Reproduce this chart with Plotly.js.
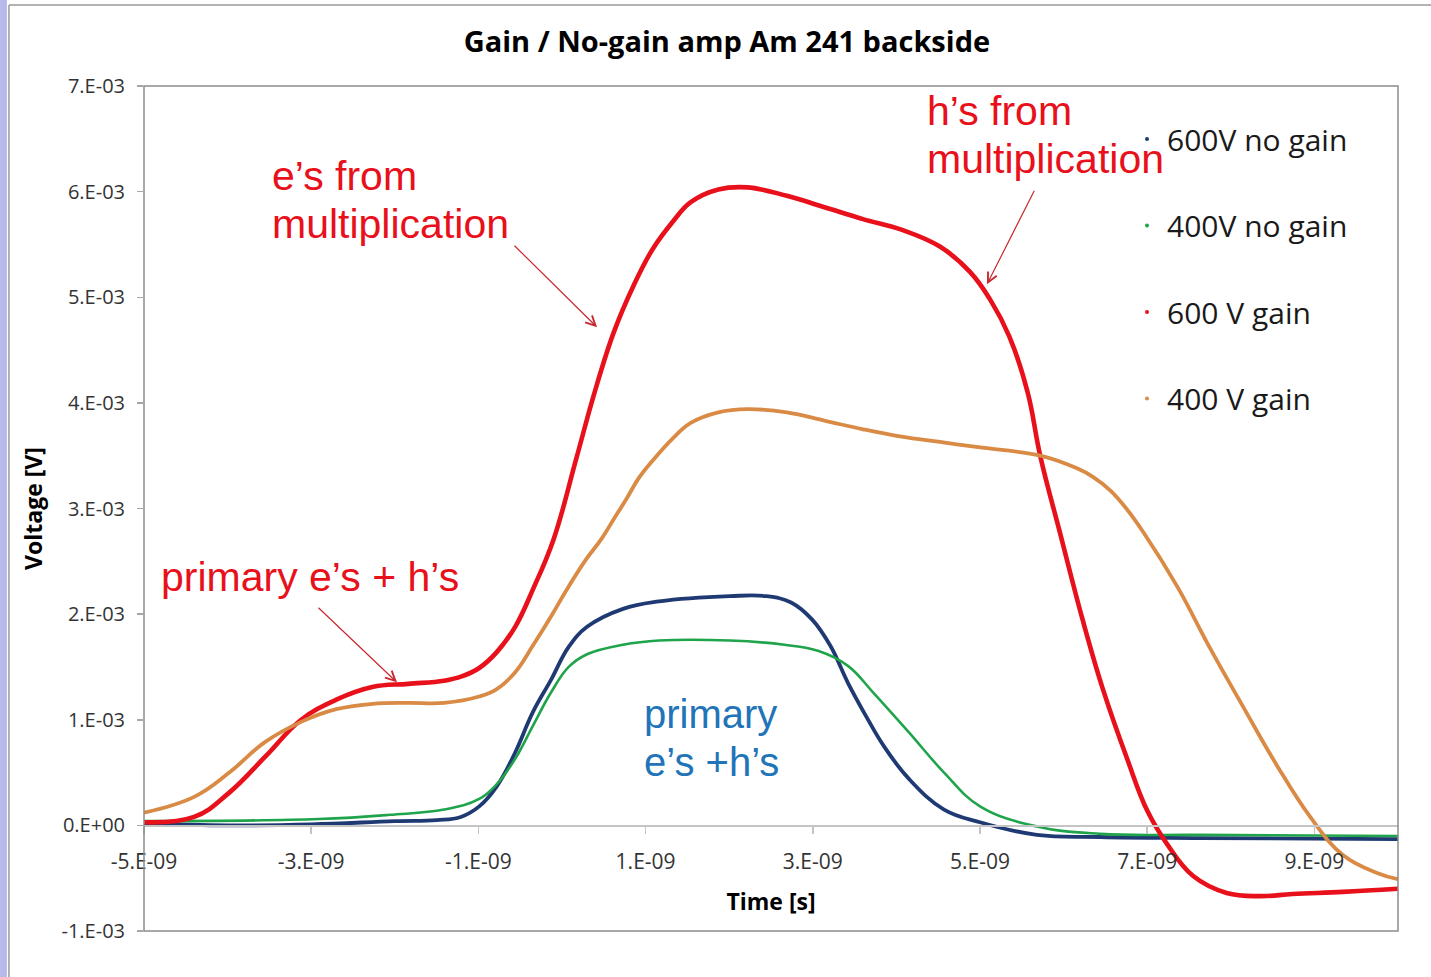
<!DOCTYPE html>
<html>
<head>
<meta charset="utf-8">
<script src="https://cdn.plot.ly/plotly-3.0.1.min.js"></script>
<style>html,body{margin:0;padding:0;background:#fff;}#chart{width:1431px;height:977px;}</style>
</head>
<body>
<div id="chart"></div>
<script>
// ---- data (time in s, voltage in V) ----
const tBlue600NoGain = [-5.00e-9,-4.00e-9,-3.00e-9,-2.00e-9,-1.50e-9,-1.21e-9,-0.99e-9,-0.78e-9,-0.56e-9,-0.35e-9,-0.13e-9,0.08e-9,0.30e-9,0.73e-9,1.16e-9,2.01e-9,2.44e-9,2.74e-9,2.99e-9,3.21e-9,3.42e-9,3.64e-9,3.85e-9,4.15e-9,4.57e-9,5.00e-9,5.68e-9,6.44e-9,7.63e-9,10.00e-9];
const vBlue600NoGain = [0.02e-3,0.00e-3,0.01e-3,0.04e-3,0.05e-3,0.08e-3,0.18e-3,0.37e-3,0.69e-3,1.07e-3,1.38e-3,1.69e-3,1.88e-3,2.05e-3,2.12e-3,2.17e-3,2.17e-3,2.11e-3,1.95e-3,1.70e-3,1.35e-3,1.03e-3,0.75e-3,0.44e-3,0.15e-3,0.03e-3,-0.09e-3,-0.11e-3,-0.12e-3,-0.13e-3];

const tGreen400NoGain = [-5.00e-9,-2.91e-9,-2.06e-9,-1.41e-9,-0.99e-9,-0.78e-9,-0.56e-9,-0.35e-9,-0.13e-9,0.08e-9,0.30e-9,0.73e-9,1.16e-9,2.01e-9,2.66e-9,3.07e-9,3.42e-9,3.72e-9,4.15e-9,4.57e-9,5.00e-9,5.68e-9,6.44e-9,7.63e-9,10.00e-9];
const vGreen400NoGain = [0.04e-3,0.06e-3,0.10e-3,0.15e-3,0.25e-3,0.39e-3,0.63e-3,0.94e-3,1.26e-3,1.50e-3,1.62e-3,1.71e-3,1.75e-3,1.75e-3,1.71e-3,1.65e-3,1.51e-3,1.26e-3,0.88e-3,0.50e-3,0.18e-3,-0.01e-3,-0.08e-3,-0.09e-3,-0.10e-3];

const tRed600Gain = [-5.00e-9,-4.40e-9,-3.98e-9,-3.55e-9,-3.12e-9,-2.70e-9,-2.27e-9,-1.84e-9,-1.41e-9,-1.20e-9,-0.99e-9,-0.78e-9,-0.56e-9,-0.35e-9,-0.10e-9,0.17e-9,0.39e-9,0.62e-9,0.85e-9,1.08e-9,1.32e-9,1.54e-9,1.87e-9,2.22e-9,2.69e-9,3.15e-9,3.60e-9,4.06e-9,4.52e-9,4.88e-9,5.12e-9,5.35e-9,5.57e-9,5.72e-9,5.96e-9,6.23e-9,6.47e-9,6.76e-9,7.00e-9,7.24e-9,7.55e-9,7.95e-9,8.35e-9,8.74e-9,9.34e-9,10.00e-9];
const vRed600Gain = [0.03e-3,0.08e-3,0.31e-3,0.65e-3,1.00e-3,1.19e-3,1.31e-3,1.34e-3,1.37e-3,1.41e-3,1.49e-3,1.64e-3,1.88e-3,2.23e-3,2.71e-3,3.47e-3,4.10e-3,4.67e-3,5.10e-3,5.45e-3,5.71e-3,5.90e-3,6.02e-3,6.04e-3,5.96e-3,5.85e-3,5.74e-3,5.64e-3,5.48e-3,5.24e-3,4.98e-3,4.63e-3,4.10e-3,3.50e-3,2.76e-3,1.94e-3,1.29e-3,0.63e-3,0.14e-3,-0.18e-3,-0.48e-3,-0.64e-3,-0.67e-3,-0.65e-3,-0.63e-3,-0.60e-3];

const tOrange400Gain = [-5.00e-9,-4.40e-9,-3.98e-9,-3.55e-9,-3.12e-9,-2.70e-9,-2.27e-9,-1.84e-9,-1.41e-9,-0.99e-9,-0.78e-9,-0.56e-9,-0.35e-9,-0.13e-9,0.04e-9,0.29e-9,0.47e-9,0.62e-9,0.77e-9,0.92e-9,1.08e-9,1.32e-9,1.54e-9,1.87e-9,2.22e-9,2.69e-9,3.15e-9,3.60e-9,4.06e-9,4.52e-9,4.98e-9,5.72e-9,6.16e-9,6.35e-9,6.56e-9,6.75e-9,6.95e-9,7.36e-9,7.75e-9,8.15e-9,8.55e-9,8.95e-9,9.34e-9,9.75e-9,10.00e-9];
const vOrange400Gain = [0.12e-3,0.27e-3,0.50e-3,0.79e-3,0.98e-3,1.10e-3,1.15e-3,1.16e-3,1.16e-3,1.22e-3,1.29e-3,1.45e-3,1.70e-3,1.98e-3,2.21e-3,2.52e-3,2.71e-3,2.90e-3,3.09e-3,3.29e-3,3.45e-3,3.66e-3,3.81e-3,3.91e-3,3.94e-3,3.91e-3,3.83e-3,3.75e-3,3.68e-3,3.63e-3,3.58e-3,3.50e-3,3.38e-3,3.30e-3,3.17e-3,3.00e-3,2.78e-3,2.26e-3,1.68e-3,1.12e-3,0.57e-3,0.08e-3,-0.28e-3,-0.45e-3,-0.51e-3];

const seriesNames = ["600V no gain", "400V no gain", "600 V gain", "400 V gain"];
const xTickVals = [-5e-9,-3e-9,-1e-9,1e-9,3e-9,5e-9,7e-9,9e-9];
const xTickText = ["-5.E-09","-3.E-09","-1.E-09","1.E-09","3.E-09","5.E-09","7.E-09","9.E-09"];
const yTickVals = [-1e-3,0,1e-3,2e-3,3e-3,4e-3,5e-3,6e-3,7e-3];
const yTickText = ["-1.E-03","0.E+00","1.E-03","2.E-03","3.E-03","4.E-03","5.E-03","6.E-03","7.E-03"];

// ---- styles ----
const colors = ["#1f3a73", "#1fa44c", "#e8101a", "#d98a45"];
const widths = [3.8, 2.6, 4.6, 3.8];
const xs = [tBlue600NoGain, tGreen400NoGain, tRed600Gain, tOrange400Gain];
const ys = [vBlue600NoGain, vGreen400NoGain, vRed600Gain, vOrange400Gain];

const traces = [];
for (let i = 0; i < 4; i++) {
  traces.push({
    type: 'scatter', mode: 'lines', x: xs[i], y: ys[i], name: seriesNames[i],
    line: {color: colors[i], width: widths[i], shape: 'spline', smoothing: 1.15},
    showlegend: false, hoverinfo: 'skip'
  });
}
for (let i = 0; i < 4; i++) {
  traces.push({
    type: 'scatter', mode: 'markers', x: [null], y: [null], name: seriesNames[i],
    marker: {color: colors[i], size: 4}, legendgroup: 'g' + i, showlegend: true
  });
}

const axisFont = {family: 'Open Sans', size: 20, color: '#333333'};
const titleFont = {family: 'Open Sans', size: 23, color: '#000000', weight: 700};
const redFont = {family: 'Liberation Sans', size: 41, color: '#e8101a'};
const blueFont = {family: 'Liberation Sans', size: 40, color: '#2174b8'};

function txt(text, x, y, font) {
  return {text: text, xref: 'paper', yref: 'paper', x: x, y: y, xanchor: 'left', yanchor: 'middle', showarrow: false, font: font};
}
function arrow(x, y, ax, ay) {
  return {text: '', xref: 'x', yref: 'y', x: x, y: y, ax: ax, ay: ay, showarrow: true,
          arrowhead: 5, arrowsize: 1.6, arrowwidth: 1.2, arrowcolor: '#c8282e', standoff: 0, startstandoff: 0};
}

const layout = {
  width: 1431, height: 977,
  margin: {l: 144, r: 33, t: 86, b: 46},
  paper_bgcolor: '#ffffff', plot_bgcolor: '#ffffff',
  title: {text: 'Gain / No-gain amp Am 241 backside', x: 0.508, xref: 'container', xanchor: 'center',
          y: 0.957, yref: 'container', yanchor: 'middle',
          font: {family: 'Open Sans', size: 29, color: '#000000', weight: 700}},
  xaxis: {
    range: [-5e-9, 10e-9], tickmode: 'array', tickvals: xTickVals, ticktext: xTickText,
    anchor: 'free', position: 0.125, showline: true, linecolor: '#c4c4c4', linewidth: 1.5,
    ticks: 'outside', ticklen: 7, tickcolor: '#c4c4c4', tickwidth: 1.5,
    showgrid: false, zeroline: false, ticklabelstandoff: 10,
    tickfont: {family: 'Open Sans', size: 21, color: '#333333'},
    title: {text: 'Time [s]', font: titleFont, standoff: 20}
  },
  yaxis: {
    range: [-1e-3, 7e-3], tickmode: 'array', tickvals: yTickVals, ticktext: yTickText,
    showline: false, ticks: 'outside', ticklen: 6, tickcolor: '#a6a6a6', tickwidth: 1.5,
    showgrid: false, zeroline: false, ticklabelstandoff: 8,
    tickfont: axisFont,
    title: {text: 'Voltage [V]', font: titleFont, standoff: 12}
  },
  showlegend: true,
  legend: {x: 0.7839, xanchor: 'left', y: 0.968, yanchor: 'top', bgcolor: 'rgba(0,0,0,0)',
           traceorder: 'grouped', tracegroupgap: 44.5,
           font: {family: 'Open Sans', size: 30, color: '#1a1a1a'}},
  shapes: [
    {type: 'rect', xref: 'paper', yref: 'paper', x0: 0, x1: 1, y0: 0, y1: 1, line: {color: '#8c8c8c', width: 1.5}, layer: 'above'},
    {type: 'rect', xref: 'paper', yref: 'paper', x0: -0.1148, x1: -0.1093, y0: -0.06, y1: 1.11, line: {width: 0}, fillcolor: '#b8b8ea'},
    {type: 'line', xref: 'paper', yref: 'paper', x0: -0.1077, x1: -0.1077, y0: 1.0959, y1: -0.06, line: {color: '#9a9a9a', width: 1.5}},
    {type: 'line', xref: 'paper', yref: 'paper', x0: -0.1077, x1: 1.03, y0: 1.0959, y1: 1.0959, line: {color: '#9a9a9a', width: 1.5}}
  ],
  annotations: [
    txt('e’s from', 0.1005, 0.8935, redFont),
    txt('multiplication', 0.1005, 0.8367, redFont),
    txt('h’s from', 0.6228, 0.9704, redFont),
    txt('multiplication', 0.6228, 0.9136, redFont),
    txt('primary e’s + h’s', 0.0120, 0.4190, redFont),
    txt('primary', 0.3975, 0.2568, blueFont),
    txt('e’s +h’s', 0.3975, 0.2000, blueFont),
    arrow(0.419e-9, 4.716e-3, -84, -83),
    arrow(5.084e-9, 5.123e-3, 48, -95),
    arrow(-1.974e-9, 1.354e-3, -80, -76)
  ]
};

Plotly.newPlot('chart', traces, layout, {displayModeBar: false, staticPlot: true});
</script>
</body>
</html>
